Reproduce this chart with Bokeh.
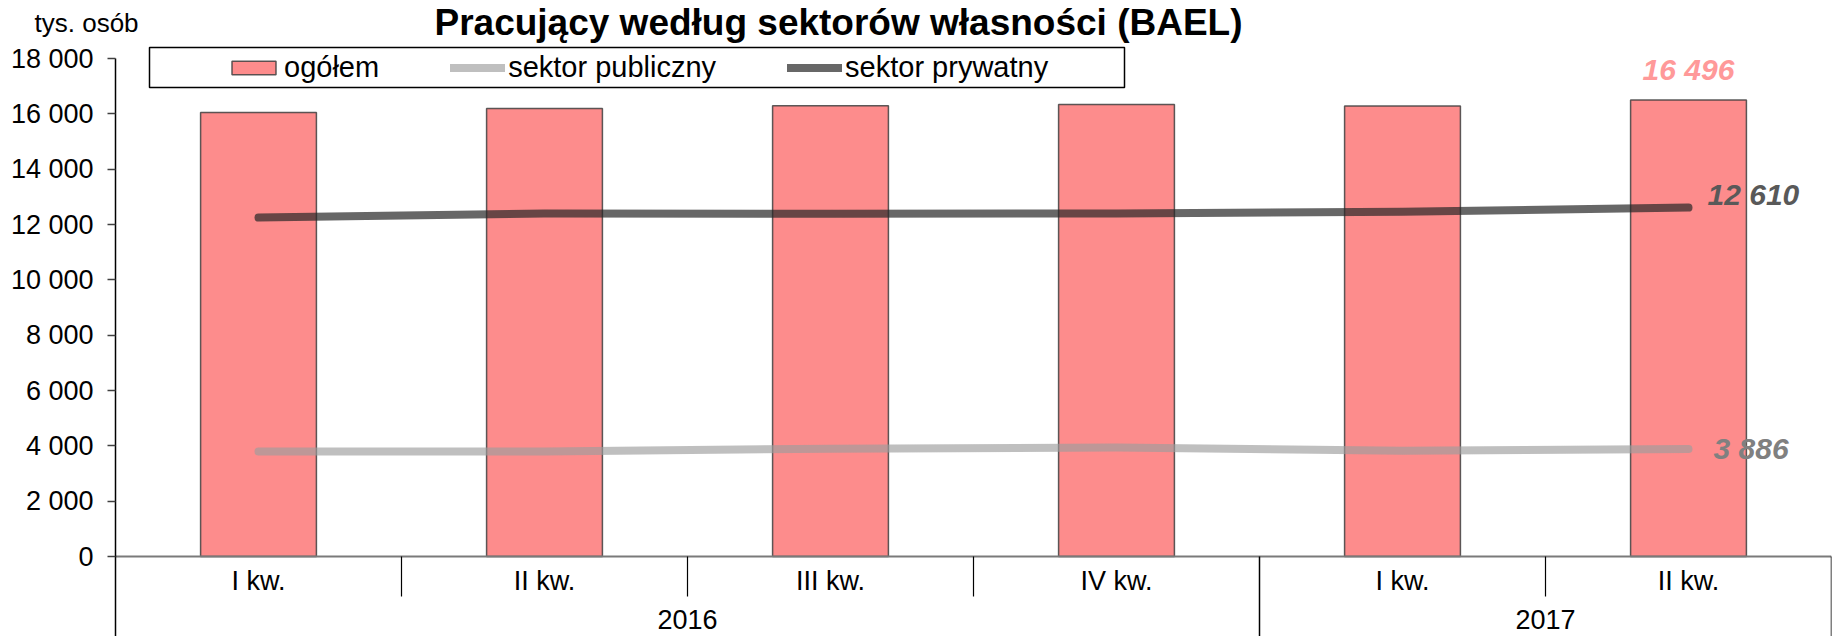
from bokeh.plotting import figure
from bokeh.models import Range1d, FixedTicker, Label, Legend, LegendItem
from bokeh.embed import file_html
from bokeh.resources import INLINE
from bokeh.core.properties import value

# ---------------- data ----------------
quarters = ["I kw.", "II kw.", "III kw.", "IV kw.", "I kw.", "II kw."]
years = ["2016", "2017"]
year_index = [0, 0, 0, 0, 1, 1]
total = [16045, 16197, 16289, 16336, 16279, 16496]
public = [3795, 3797, 3899, 3936, 3819, 3886]
private = [12250, 12400, 12390, 12400, 12460, 12610]
y_ticks = [0, 2000, 4000, 6000, 8000, 10000, 12000, 14000, 16000, 18000]
y_tick_labels = ["0", "2 000", "4 000", "6 000", "8 000", "10 000",
                 "12 000", "14 000", "16 000", "18 000"]
legend_labels = ["ogółem", "sektor publiczny", "sektor prywatny"]
title_text = "Pracujący według sektorów własności (BAEL)"
unit_text = "tys. osób"

# ---------------- layout helpers (page pixels -> data) ----------------
FONT = "Liberation Sans"
W, H = 1835, 636
PAGE_OFF = 0
X0_PAGE, CAT_PX = 115, 286.0
Y0_PAGE = 556
K = 498.0 / 18000.0          # px per unit
def xd(px):
    return (px - X0_PAGE) / CAT_PX
def yd(py):
    return (Y0_PAGE - py) / K

n = len(quarters)
RIGHT = 4
x_left = xd(PAGE_OFF)
x_right = xd(PAGE_OFF + W - RIGHT)
y_top = yd(PAGE_OFF)
y_bot = yd(PAGE_OFF + H)
xs = [i + 0.5 for i in range(n)]

p = figure(width=W, height=H, output_backend="svg", toolbar_location=None,
           x_range=Range1d(x_left, x_right), y_range=Range1d(y_bot, y_top),
           x_axis_location=None, y_axis_location="left")
p.min_border = 0
p.min_border_left = 0
p.min_border_right = RIGHT
p.min_border_top = 0
p.min_border_bottom = 0
p.outline_line_color = None
p.xgrid.visible = False
p.ygrid.visible = False
p.background_fill_color = "white"

ax = p.yaxis[0]
ax.fixed_location = 0
ax.ticker = FixedTicker(ticks=y_ticks)
ax.major_label_overrides = {t: l for t, l in zip(y_ticks, y_tick_labels)}
ax.bounds = (y_bot, y_ticks[-1])
ax.minor_tick_line_color = None
ax.major_tick_in = 0
ax.major_tick_out = 8
ax.major_tick_line_color = "#404040"
ax.major_tick_line_width = 1.5
ax.axis_line_color = "black"
ax.axis_line_width = 1.5
ax.major_label_standoff = 14
ax.major_label_text_font = FONT
ax.major_label_text_font_size = "27px"
ax.major_label_text_color = "black"

# legend frame
p.quad(left=xd(149), right=xd(1124), top=yd(47), bottom=yd(87),
       fill_color="white", line_color="black", line_width=1.5)

# bars
bars = p.vbar(x=xs, top=total, bottom=0, width=0.405,
              fill_color="#FD8C8C", line_color="#404040", line_alpha=0.85,
              line_width=1.5)

# x axis line
p.segment(x0=[0], x1=[n], y0=[0], y1=[0], line_color="#7a7a7a", line_width=2)

# category separators
short_x = [i for i in range(1, n) if year_index[i] == year_index[i - 1]]
long_x = [i for i in range(1, n) if year_index[i] != year_index[i - 1]] + [n]
p.segment(x0=short_x, x1=short_x, y0=[0] * len(short_x), y1=[yd(596)] * len(short_x),
          line_color="black", line_width=1.2)
p.segment(x0=long_x, x1=long_x, y0=[0] * len(long_x), y1=[y_bot] * len(long_x),
          line_color="black", line_width=1.5)

# lines
l_pub = p.line(xs, public, line_width=8, line_color="#9c9c9c", line_alpha=0.65,
               line_cap="round", line_join="round")
l_priv = p.line(xs, private, line_width=8, line_color="#262626", line_alpha=0.7,
                line_cap="round", line_join="round")

# category labels
p.text(x=xs, y=[0] * n, text=quarters, y_offset=24, text_align="center",
       text_baseline="middle", text_font=value(FONT), text_font_size="27px",
       text_color="black")
year_x = []
for j in range(len(years)):
    pos = [xs[i] for i in range(n) if year_index[i] == j]
    year_x.append((min(pos) + max(pos)) / 2.0)
p.text(x=year_x, y=[0] * len(years), text=years, y_offset=63, text_align="center",
       text_baseline="middle", text_font=value(FONT), text_font_size="27px",
       text_color="black")

def fmt(v):
    return f"{v:,}".replace(",", " ")

# data labels
p.text(x=[xs[-1]], y=[total[-1]], text=[fmt(total[-1])], y_offset=-31,
       text_align="center", text_baseline="middle", text_font=value(FONT),
       text_font_size="30px", text_font_style="bold italic", text_color="#FF9999")
p.text(x=[xs[-1]], y=[private[-1]], text=[fmt(private[-1])], x_offset=19, y_offset=-13,
       text_align="left", text_baseline="middle", text_font=value(FONT),
       text_font_size="30px", text_font_style="bold italic", text_color="#595959")
p.text(x=[xs[-1]], y=[public[-1]], text=[fmt(public[-1])], x_offset=25, y_offset=0,
       text_align="left", text_baseline="middle", text_font=value(FONT),
       text_font_size="30px", text_font_style="bold italic", text_color="#808080")

# title and unit
p.add_layout(Label(x=xd(838), y=yd(1), text=title_text, text_align="center",
                   text_baseline="top", text_font=FONT, text_font_size="37px",
                   text_font_style="bold", text_color="black"))
p.add_layout(Label(x=xd(34), y=yd(22), text=unit_text, text_align="left",
                   text_baseline="middle", text_font=FONT, text_font_size="26px",
                   text_color="black"))

# legend
legend = Legend(items=[LegendItem(label=legend_labels[0], renderers=[bars]),
                       LegendItem(label=legend_labels[1], renderers=[l_pub]),
                       LegendItem(label=legend_labels[2], renderers=[l_priv])],
                orientation="horizontal", location=(226 - PAGE_OFF, PAGE_OFF + H - 84),
                padding=0, margin=0, spacing=71, glyph_width=55, glyph_height=17,
                label_standoff=3, border_line_alpha=0, background_fill_alpha=0,
                label_text_font=FONT, label_text_font_size="29px",
                label_text_color="black")
p.add_layout(legend)

open("out.html", "w").write(file_html(p, INLINE))
